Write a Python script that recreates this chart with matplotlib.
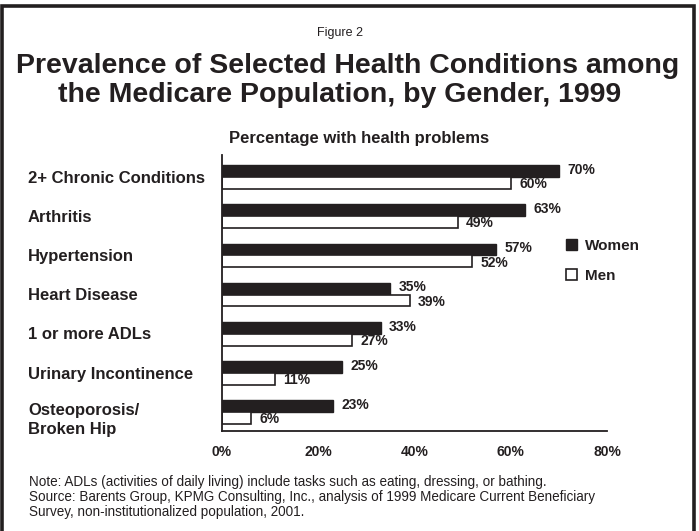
import matplotlib
matplotlib.use("Agg")
import matplotlib.pyplot as plt
from matplotlib.patches import Patch, Rectangle
from matplotlib.transforms import blended_transform_factory

plt.rcParams['font.family'] = ['Liberation Sans', 'DejaVu Sans']

# Prevalence (%) by condition
conditions = ["2+ Chronic Conditions", "Arthritis", "Hypertension", "Heart Disease",
              "1 or more ADLs", "Urinary Incontinence", "Osteoporosis/\nBroken Hip"]
women = [70, 63, 57, 35, 33, 25, 23]
men = [60, 49, 52, 39, 27, 11, 6]
xticks = [0, 20, 40, 60, 80]

ink = "#231f20"
W, H = 699, 531

fig = plt.figure(figsize=(W / 100, H / 100), dpi=100)
ax = fig.add_axes([222 / W, 1 - 431 / H, (607 - 222) / W, (431 - 155) / H])

pos = list(range(len(conditions)))
bh = 0.3
ax.barh([p - bh / 2 for p in pos], women, height=bh, color=ink, edgecolor=ink, linewidth=1)
ax.barh([p + bh / 2 for p in pos], men, height=bh, color="white", edgecolor=ink, linewidth=1.2)

for p, w, m in zip(pos, women, men):
    ax.annotate(f"{w}%", (w, p - bh / 2), xytext=(6, 1), textcoords="offset points",
                ha="left", va="center", fontsize=10, fontweight="bold", color=ink)
    ax.annotate(f"{m}%", (m, p + bh / 2), xytext=(6, -1), textcoords="offset points",
                ha="left", va="center", fontsize=10, fontweight="bold", color=ink)

ax.set_xlim(0, 80)
ax.set_ylim(6.48, -0.56)
ax.set_xticks(xticks)
ax.set_xticklabels([f"{t}%" for t in xticks], fontsize=10, fontweight="bold", color=ink)
ax.tick_params(axis="x", length=0, pad=10)
ax.set_yticks([])
for s in ["top", "right"]:
    ax.spines[s].set_visible(False)
for s in ["left", "bottom"]:
    ax.spines[s].set_color(ink)
    ax.spines[s].set_linewidth(1.3)

# category names, left-aligned in the margin
trans = blended_transform_factory(fig.transFigure, ax.transData)
for p, c in zip(pos, conditions):
    yy = p + (0.2 if "\n" in c else 0.03)
    ax.text(28 / W, yy, c, transform=trans, ha="left", va="center",
            fontsize=12, fontweight="bold", color=ink, linespacing=1.35)

handles = [Patch(facecolor=ink, edgecolor=ink, label="Women"),
           Patch(facecolor="white", edgecolor=ink, linewidth=1.2, label="Men")]
fig.legend(handles=handles, loc="upper left", bbox_to_anchor=(566 / W, 1 - 239 / H),
           frameon=False, prop={"weight": "bold", "size": 11},
           handlelength=0.75, handleheight=0.75, handletextpad=0.5,
           labelspacing=1.05, borderpad=0, borderaxespad=0, labelcolor=ink)

fig.text(340 / W, 1 - 33 / H, "Figure 2", ha="center", va="center", fontsize=9, color=ink)
fig.text(348 / W, 1 - 73 / H, "Prevalence of Selected Health Conditions among",
         ha="center", va="baseline", fontsize=20.5, fontweight="bold", color=ink)
fig.text(340 / W, 1 - 102 / H, "the Medicare Population, by Gender, 1999",
         ha="center", va="baseline", fontsize=20.5, fontweight="bold", color=ink)
fig.text(359 / W, 1 - 138 / H, "Percentage with health problems", ha="center", va="center",
         fontsize=12, fontweight="bold", color=ink)

notes = ["Note: ADLs (activities of daily living) include tasks such as eating, dressing, or bathing.",
         "Source: Barents Group, KPMG Consulting, Inc., analysis of 1999 Medicare Current Beneficiary",
         "Survey, non-institutionalized population, 2001."]
for i, line in enumerate(notes):
    fig.text(29 / W, 1 - (482 + 15 * i) / H, line, ha="left", va="center", fontsize=9.75, color=ink)

# outer frame
fig.add_artist(Rectangle((1.5 / W, -3 / H), 692.5 / W, (H - 6 + 3) / H, transform=fig.transFigure,
                         fill=False, edgecolor=ink, linewidth=2.6))

fig.savefig("out.png", dpi=100)
